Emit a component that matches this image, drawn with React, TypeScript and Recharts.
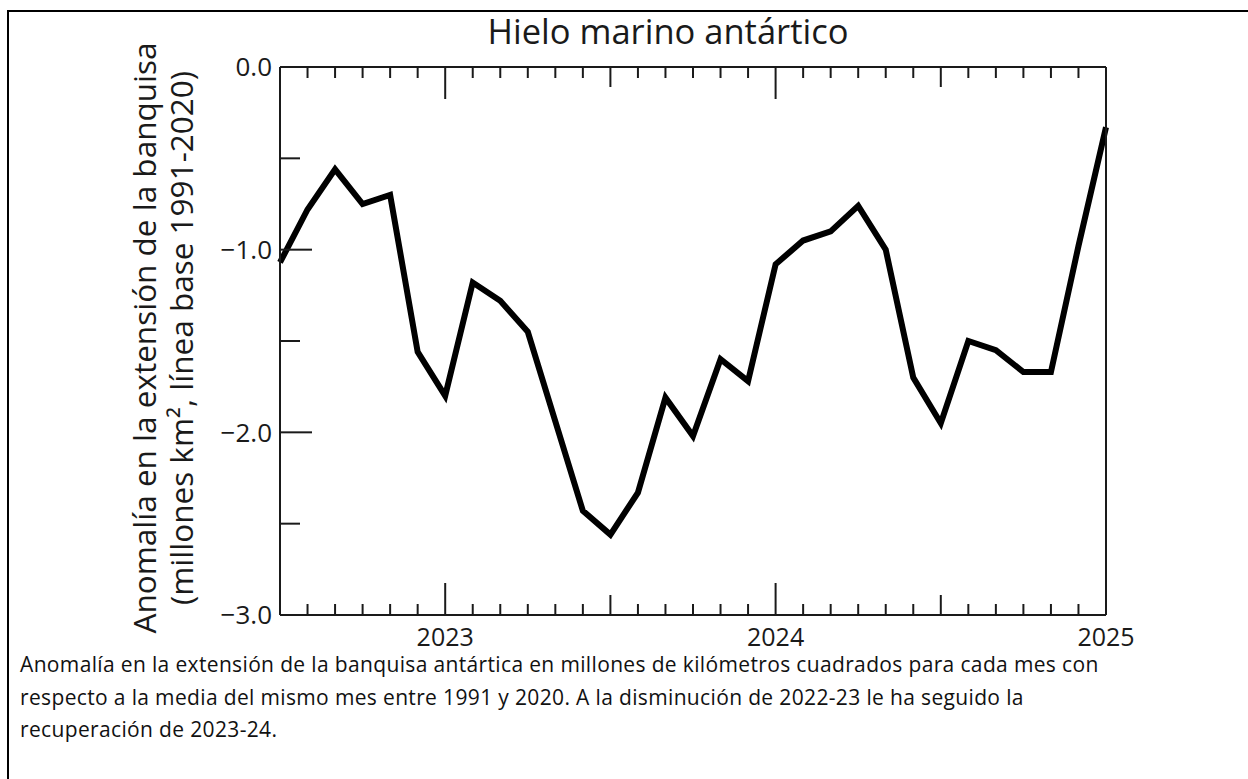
import React from 'react';
import { LineChart, Line, XAxis, YAxis } from 'recharts';

// Monthly Antarctic sea-ice extent anomaly, Jul 2022 – Jan 2025 (million km², vs 1991-2020)
const MONTHS = [
  '2022-07', '2022-08', '2022-09', '2022-10', '2022-11', '2022-12',
  '2023-01', '2023-02', '2023-03', '2023-04', '2023-05', '2023-06',
  '2023-07', '2023-08', '2023-09', '2023-10', '2023-11', '2023-12',
  '2024-01', '2024-02', '2024-03', '2024-04', '2024-05', '2024-06',
  '2024-07', '2024-08', '2024-09', '2024-10', '2024-11', '2024-12',
  '2025-01',
];
const ANOMALY = [
  -1.07, -0.78, -0.56, -0.75, -0.70, -1.56,
  -1.80, -1.18, -1.28, -1.45, -1.94, -2.43,
  -2.56, -2.33, -1.81, -2.02, -1.60, -1.72,
  -1.08, -0.95, -0.90, -0.76, -1.00, -1.70,
  -1.95, -1.50, -1.55, -1.67, -1.67, -0.98,
  -0.33,
];
const Y_TICKS = [0, -0.5, -1, -1.5, -2, -2.5, -3];
const Y_LABELED = [0, -1, -2, -3];

const TITLE = 'Hielo marino antártico';
const Y_LABEL_1 = 'Anomalía en la extensión de la banquisa';
const Y_LABEL_2 = '(millones km², línea base 1991-2020)';
const CAPTION = [
  'Anomalía en la extensión de la banquisa antártica en millones de kilómetros cuadrados para cada mes con',
  'respecto a la media del mismo mes entre 1991 y 2020. A la disminución de 2022-23 le ha seguido la',
  'recuperación de 2023-24.',
];

const data = MONTHS.map((month, i) => ({ month, value: ANOMALY[i] }));

const INK = '#1a1a1a';
const FONT = '"Open Sans", "Noto Sans", sans-serif';

const monthTickLen = (m: string) => (m.endsWith('-01') ? 32 : m.endsWith('-07') ? 20 : 11);
const valueTickLen = (v: number) => (Number.isInteger(v) ? 32 : 20);
const isEdgeMonth = (m: string) => m === MONTHS[0] || m === MONTHS[MONTHS.length - 1];
const isEdgeValue = (v: number) => v === 0 || v === -3;
const fmtValue = (v: number) => (v === 0 ? '0.0' : '\u2212' + Math.abs(v).toFixed(1));

// ticks point inward, labels sit outside
const BottomTick = ({ x, y, payload }: any) => {
  const m = payload.value as string;
  return (
    <g>
      {!isEdgeMonth(m) && <line x1={x} x2={x} y1={y} y2={y - monthTickLen(m)} stroke={INK} strokeWidth={2} />}
      {m.endsWith('-01') && (
        <text x={x} y={y + 31} textAnchor="middle" fontSize={25} fill={INK} fontFamily={FONT}>
          {m.slice(0, 4)}
        </text>
      )}
    </g>
  );
};

const TopTick = ({ x, y, payload }: any) => {
  const m = payload.value as string;
  if (isEdgeMonth(m)) return <g />;
  return <line x1={x} x2={x} y1={y} y2={y + monthTickLen(m)} stroke={INK} strokeWidth={2} />;
};

const LeftTick = ({ x, y, payload }: any) => {
  const v = payload.value as number;
  return (
    <g>
      {!isEdgeValue(v) && <line x1={x} x2={x + valueTickLen(v)} y1={y} y2={y} stroke={INK} strokeWidth={2} />}
      {Y_LABELED.includes(v) && (
        <text x={x - 8} y={y} dy="0.36em" textAnchor="end" fontSize={26} fill={INK} fontFamily={FONT}>
          {fmtValue(v)}
        </text>
      )}
    </g>
  );
};

const RightTick = ({ x, y, payload }: any) => {
  const v = payload.value as number;
  if (isEdgeValue(v)) return <g />;
  return <line x1={x} x2={x - valueTickLen(v)} y1={y} y2={y} stroke={INK} strokeWidth={2} />;
};

export default function App() {
  return (
    <div style={{ position: 'absolute', left: 0, top: 0, width: 1248, height: 779, background: '#fff', overflow: 'hidden' }}>
      <div
        style={{
          position: 'absolute',
          left: 7,
          top: 10,
          width: 1250,
          height: 780,
          borderTop: '2px solid #000',
          borderLeft: '2px solid #000',
        }}
      />
      <svg width={1248} height={660} style={{ position: 'absolute', left: 0, top: 0 }}>
        <text x={668} y={44} textAnchor="middle" fontSize={34.5} fill={INK} fontFamily={FONT}>
          {TITLE}
        </text>
        <g transform="rotate(-90)" fontFamily={FONT} fill={INK} fontSize={31.5} textAnchor="middle">
          <text x={-338} y={156}>{Y_LABEL_1}</text>
          <text x={-338} y={193}>{Y_LABEL_2}</text>
        </g>
      </svg>
      <div style={{ position: 'absolute', left: 0, top: 0 }}>
        <LineChart width={1248} height={660} data={data} margin={{ top: 66, right: 141, bottom: 44, left: 279 }}>
          <XAxis
            xAxisId="bottom"
            dataKey="month"
            orientation="bottom"
            height={1}
            interval={0}
            tickSize={0}
            tickMargin={0}
            tick={<BottomTick />}
            axisLine={{ stroke: INK, strokeWidth: 2 }}
            tickLine={false}
          />
          <XAxis
            xAxisId="top"
            dataKey="month"
            orientation="top"
            height={1}
            interval={0}
            tickSize={0}
            tickMargin={0}
            tick={<TopTick />}
            axisLine={{ stroke: INK, strokeWidth: 2 }}
            tickLine={false}
          />
          <YAxis
            yAxisId="left"
            orientation="left"
            width={1}
            domain={[-3, 0]}
            ticks={Y_TICKS}
            interval={0}
            tickSize={0}
            tickMargin={0}
            tick={<LeftTick />}
            axisLine={{ stroke: INK, strokeWidth: 2 }}
            tickLine={false}
          />
          <YAxis
            yAxisId="right"
            orientation="right"
            width={1}
            domain={[-3, 0]}
            ticks={Y_TICKS}
            interval={0}
            tickSize={0}
            tickMargin={0}
            tick={<RightTick />}
            axisLine={{ stroke: INK, strokeWidth: 2 }}
            tickLine={false}
          />
          <Line
            xAxisId="bottom"
            yAxisId="left"
            dataKey="value"
            stroke="#000"
            strokeWidth={6}
            strokeLinejoin="miter"
            dot={false}
            activeDot={false}
            isAnimationActive={false}
          />
        </LineChart>
      </div>
      {CAPTION.map((line, i) => (
        <div
          key={i}
          style={{
            position: 'absolute',
            left: 20,
            top: 654 + i * 32.5,
            fontFamily: '"Open Sans", sans-serif',
            fontSize: 21,
            letterSpacing: 0.35,
            lineHeight: '21px',
            color: '#111',
            whiteSpace: 'pre',
          }}
        >
          {line}
        </div>
      ))}
    </div>
  );
}
